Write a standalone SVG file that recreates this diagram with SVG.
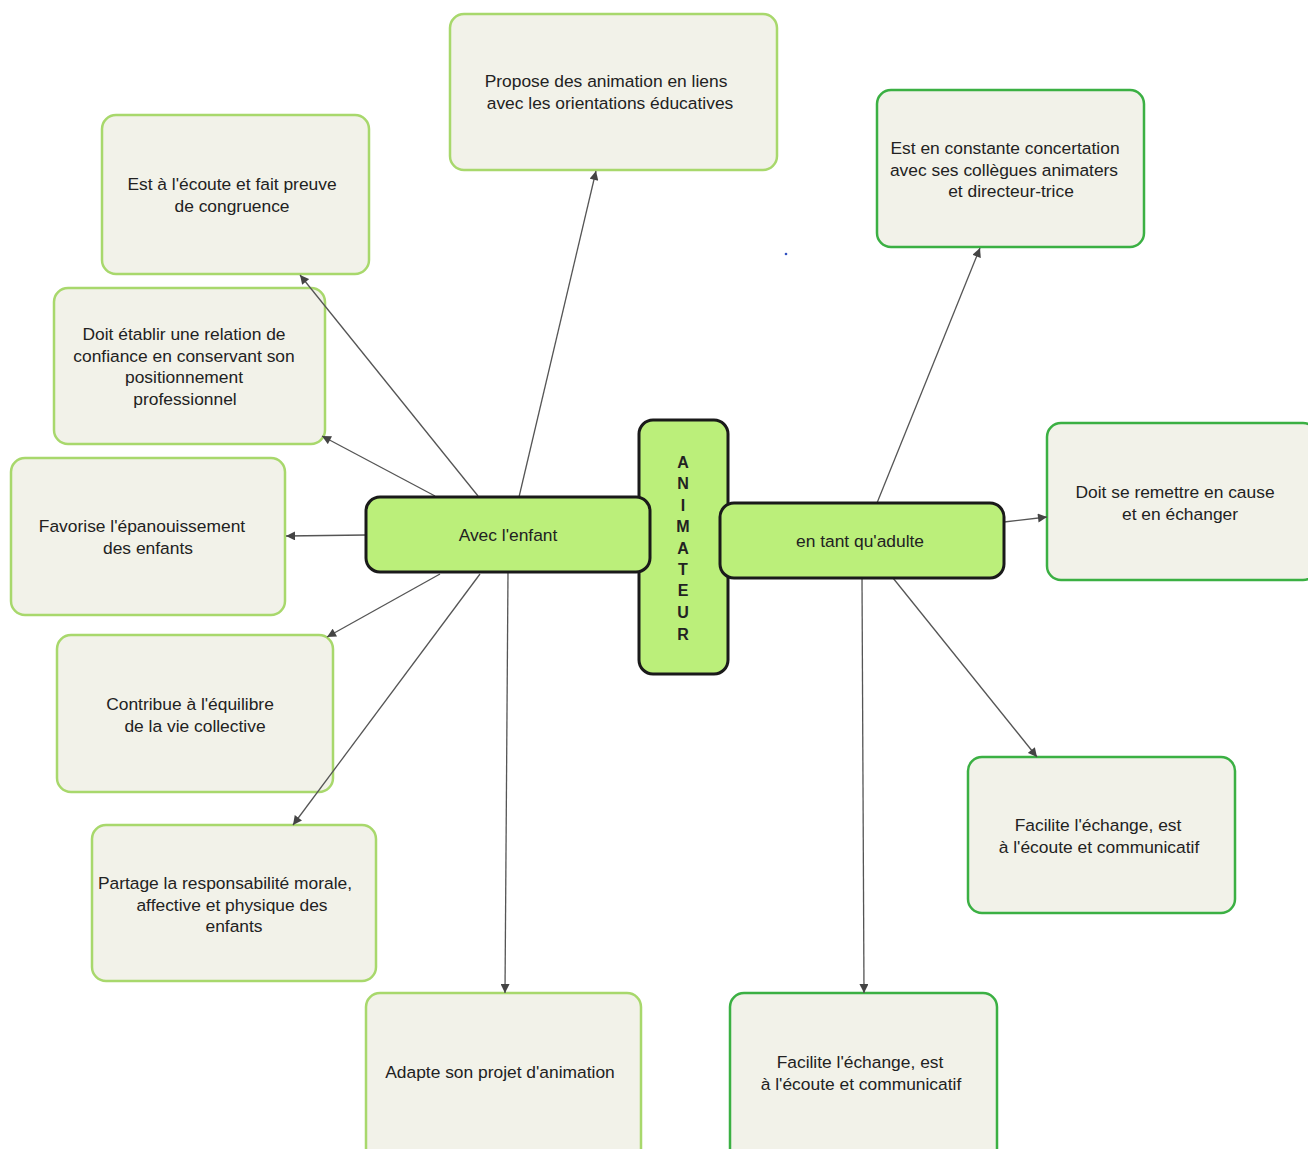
<svg xmlns="http://www.w3.org/2000/svg" width="1308" height="1149" viewBox="0 0 1308 1149">
<defs>
<marker id="ah" viewBox="0 0 10 10" refX="10" refY="5" markerWidth="10" markerHeight="9" markerUnits="userSpaceOnUse" orient="auto">
<path d="M0,0 L10,5 L0,10 z" fill="#444"/>
</marker>
<style>
.bx{fill:#f2f2e9;stroke:#a8d86c;stroke-width:2.5}
.bxd{fill:#f2f2e9;stroke:#3bb043;stroke-width:2.5}
.ctr{fill:#bbef7a;stroke:#1a1a1a;stroke-width:3}
.t{font-family:"Liberation Sans",Arial,sans-serif;font-size:17.4px;fill:#222;text-anchor:middle}
.tv{font-family:"Liberation Sans",Arial,sans-serif;font-size:16px;font-weight:bold;fill:#222;text-anchor:middle}
.c line{stroke:#555;stroke-width:1.3;marker-end:url(#ah)}
</style>
</defs>
<rect width="1308" height="1149" fill="#ffffff"/>

<g id="n-propose">
<rect class="bx" x="450" y="14" width="327" height="156" rx="14"/>
<text class="t" x="606" y="87">Propose des animation en liens</text>
<text class="t" x="610" y="109">avec les orientations éducatives</text>
</g>
<g id="n-ecoute">
<rect class="bx" x="102" y="115" width="267" height="159" rx="14"/>
<text class="t" x="232" y="190">Est à l'écoute et fait preuve</text>
<text class="t" x="232" y="212">de congruence</text>
</g>
<g id="n-confiance">
<rect class="bx" x="54" y="288" width="271" height="156" rx="14"/>
<text class="t" x="184" y="340">Doit établir une relation de</text>
<text class="t" x="184" y="362">confiance  en conservant son</text>
<text class="t" x="184" y="383">positionnement</text>
<text class="t" x="185" y="405">professionnel</text>
</g>
<g id="n-favorise">
<rect class="bx" x="11" y="458" width="274" height="157" rx="14"/>
<text class="t" x="142" y="532">Favorise l'épanouissement</text>
<text class="t" x="148" y="554">des enfants</text>
</g>
<g id="n-contribue">
<rect class="bx" x="57" y="635" width="276" height="157" rx="14"/>
<text class="t" x="190" y="710">Contribue à l'équilibre</text>
<text class="t" x="195" y="732">de la vie collective</text>
</g>
<g id="n-partage">
<rect class="bx" x="92" y="825" width="284" height="156" rx="14"/>
<text class="t" x="225" y="889">Partage la responsabilité morale,</text>
<text class="t" x="232" y="911">affective et physique des</text>
<text class="t" x="234" y="932">enfants</text>
</g>
<g id="n-adapte">
<rect class="bx" x="366" y="993" width="275" height="170" rx="14"/>
<text class="t" x="500" y="1078">Adapte son projet d'animation</text>
</g>
<g id="n-concertation">
<rect class="bxd" x="877" y="90" width="267" height="157" rx="14"/>
<text class="t" x="1005" y="154">Est en constante concertation</text>
<text class="t" x="1004" y="176">avec ses collègues animaters</text>
<text class="t" x="1011" y="197">et directeur-trice</text>
</g>
<g id="n-remettre">
<rect class="bxd" x="1047" y="423" width="270" height="157" rx="14"/>
<text class="t" x="1175" y="498">Doit se remettre en cause</text>
<text class="t" x="1180" y="520">et en échanger</text>
</g>
<g id="n-facilite1">
<rect class="bxd" x="968" y="757" width="267" height="156" rx="14"/>
<text class="t" x="1098" y="831">Facilite l'échange, est</text>
<text class="t" x="1099" y="853">à l'écoute et communicatif</text>
</g>
<g id="n-facilite2">
<rect class="bxd" x="730" y="993" width="267" height="170" rx="14"/>
<text class="t" x="860" y="1068">Facilite l'échange, est</text>
<text class="t" x="861" y="1090">à l'écoute et communicatif</text>
</g>

<g id="connectors" class="c">
<line x1="519" y1="497" x2="596" y2="171"/>
<line x1="478" y1="496" x2="300" y2="275"/>
<line x1="435" y1="496" x2="322" y2="436"/>
<line x1="366" y1="535" x2="286" y2="536"/>
<line x1="440" y1="574" x2="327" y2="637"/>
<line x1="480" y1="574" x2="293" y2="825"/>
<line x1="508" y1="572" x2="505" y2="993"/>
<line x1="877" y1="503" x2="980" y2="248"/>
<line x1="1004" y1="522" x2="1047" y2="517"/>
<line x1="893" y1="578" x2="1037" y2="757"/>
<line x1="862" y1="578" x2="864" y2="993"/>
</g>

<g id="n-animateur">
<rect class="ctr" x="639" y="420" width="89" height="254" rx="14"/>
<text class="tv" x="683" y="468">A</text>
<text class="tv" x="683" y="489">N</text>
<text class="tv" x="683" y="511">I</text>
<text class="tv" x="683" y="532">M</text>
<text class="tv" x="683" y="554">A</text>
<text class="tv" x="683" y="575">T</text>
<text class="tv" x="683" y="596">E</text>
<text class="tv" x="683" y="618">U</text>
<text class="tv" x="683" y="640">R</text>
</g>
<g id="n-enfant">
<rect class="ctr" x="366" y="497" width="284" height="75" rx="14"/>
<text class="t" x="508" y="541">Avec l'enfant</text>
</g>
<g id="n-adulte">
<rect class="ctr" x="720" y="503" width="284" height="75" rx="14"/>
<text class="t" x="860" y="547">en tant qu'adulte</text>
</g>
<circle cx="786" cy="254" r="1.3" fill="#3050c0"/>
</svg>
